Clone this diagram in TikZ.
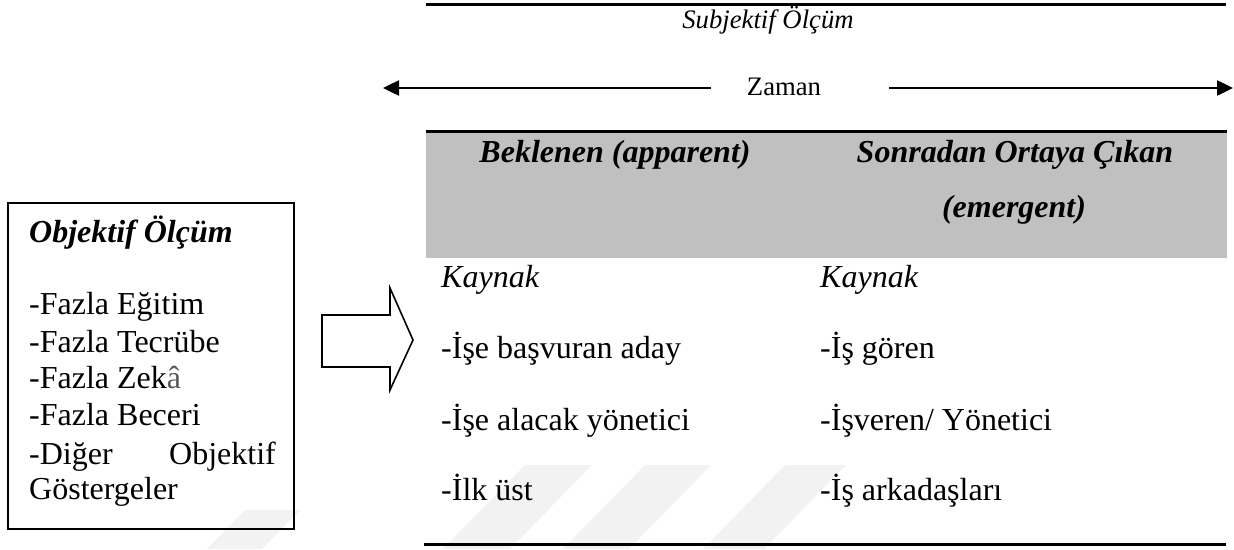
\documentclass[tikz,border=0pt]{standalone}
\usepackage{fontspec}
\setmainfont{Liberation Serif}
\usetikzlibrary{arrows.meta}
\definecolor{hdr}{RGB}{192,192,192}
\definecolor{wmark}{RGB}{242,242,242}
\begin{document}
\begin{tikzpicture}[x=1pt,y=-1pt,
  big/.style={font=\fontsize{32}{37}\selectfont, inner sep=0pt},
  bigl/.style={big, anchor=base west},
  hd/.style={big, anchor=base, font=\fontsize{32}{37}\selectfont\bfseries\itshape},
  small/.style={font=\fontsize{26.7}{30}\selectfont, inner sep=0pt, anchor=base},
  rulebar/.style={line width=3pt},
  zarrow/.style={line width=2.5pt, -{Triangle[length=16pt,width=15pt]}},
  boxline/.style={line width=1.6pt},
  wm/.style={fill=wmark, draw=none}]
\useasboundingbox (0,0) rectangle (1234,549);
% watermark (faint)
\fill[wm] (245,510) -- (300,510) -- (262,549) -- (207,549) -- cycle;
\fill[wm] (525,465) -- (592,465) -- (510,549) -- (443,549) -- cycle;
\fill[wm] (645,465) -- (711,465) -- (629,549) -- (563,549) -- cycle;
\fill[wm] (785,465) -- (846,465) -- (764,549) -- (703,549) -- cycle;
% top rule and subjective label
\draw[rulebar] (426,4.5) -- (1226,4.5);
\node[small, font=\fontsize{26.7}{30}\selectfont\itshape] (subj) at (768,28) {Subjektif Ölçüm};
% time axis
\node[small] (zaman) at (784,95) {Zaman};
\coordinate (zls) at (711,88);
\coordinate (zlt) at (383,88);
\coordinate (zrs) at (889,88);
\coordinate (zrt) at (1233,88);
\draw[zarrow] (zls) -- (zlt);
\draw[zarrow] (zrs) -- (zrt);
% table header
\fill[hdr] (426,131) rectangle (1227,258);
\draw[rulebar] (426,131) -- (1227,131);
\node[hd] (h1) at (615,162) {Beklenen (apparent)};
\node[hd] (h2) at (1015,162) {Sonradan Ortaya Çıkan};
\node[hd] (h3) at (1014,217) {(emergent)};
% table body
\node[bigl, font=\fontsize{32}{37}\selectfont\itshape] (k1) at (441,287) {Kaynak};
\node[bigl, font=\fontsize{32}{37}\selectfont\itshape] (k2) at (820,287) {Kaynak};
\node[bigl] (a1) at (441,358) {-İşe başvuran aday};
\node[bigl] (a2) at (441,430) {-İşe alacak yönetici};
\node[bigl] (a3) at (441,500) {-İlk üst};
\node[bigl] (b1) at (820,358) {-İş gören};
\node[bigl] (b2) at (820,430) {-İşveren/ Yönetici};
\node[bigl] (b3) at (820,500) {-İş arkadaşları};
\draw[rulebar] (424,544) -- (1226,544);
% objective box
\node[draw, boxline, minimum width=286pt, minimum height=326pt, inner sep=0pt, anchor=north west] (obox) at (7,202) {};
\node[bigl, font=\fontsize{32}{37}\selectfont\bfseries\itshape] (ot) at (29,242) {Objektif Ölçüm};
\node[bigl] (o1) at (29,314) {-Fazla Eğitim};
\node[bigl] (o2) at (29,352) {-Fazla Tecrübe};
\node[bigl] (o3) at (29,388) {-Fazla Zek\textcolor{black!65}{â}};
\node[bigl] (o4) at (29,425) {-Fazla Beceri};
\node[bigl] (o5) at (29,464) {-Diğer};
\node[big, anchor=base east] (o5b) at (276,464) {Objektif};
\node[bigl] (o6) at (29,499) {Göstergeler};
% block arrow
\draw[boxline, line join=miter] (322,315) -- (390,315) -- (390,288) -- (413,340) -- (390,390) -- (390,367) -- (322,367) -- cycle;
\end{tikzpicture}
\end{document}
